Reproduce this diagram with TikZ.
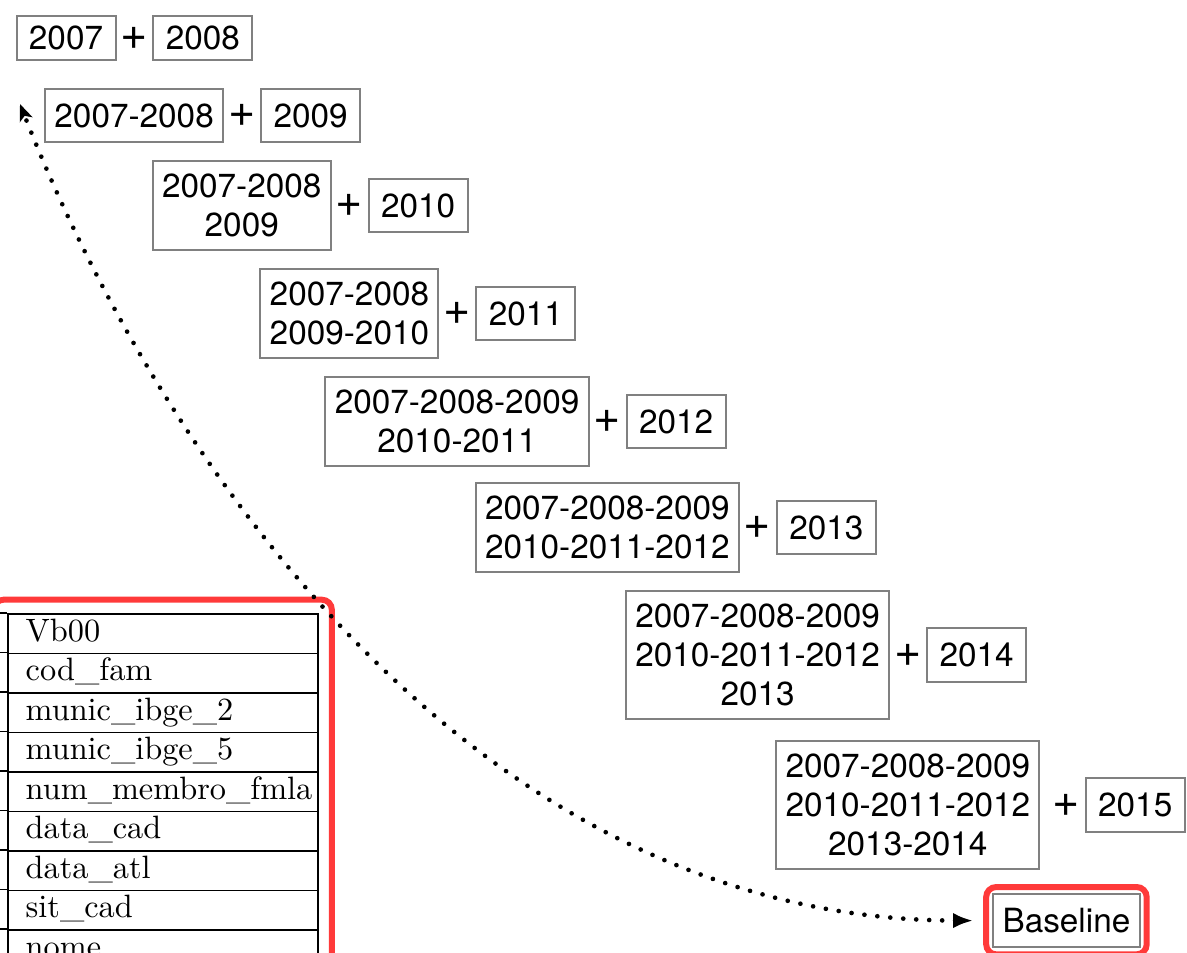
\documentclass[tikz,border=0pt]{standalone}
\usepackage{fontspec}
\newfontfamily\heros{TeX Gyre Heros}
\usetikzlibrary{positioning,arrows.meta,fit}
\definecolor{hired}{HTML}{FF3A3A}

\tikzset{
  yr/.style    = {draw=black!50, line width=0.6pt, inner xsep=2.8pt, inner ysep=4pt,
                  minimum height=16pt, align=center,
                  font=\heros\fontsize{10}{11.6}\selectfont},
  one/.style   = {yr, minimum width=29.7pt},
  low/.style   = {minimum height=13.2pt, inner ysep=2pt},
  plus/.style  = {inner sep=0pt, font=\heros\fontsize{14}{14}\selectfont},
  field/.style = {draw, line width=0.45pt, anchor=north west, inner xsep=5.4pt, inner ysep=0pt,
                  text width=82.2pt, minimum height=11.85pt, text height=6.9pt, text depth=2.2pt,
                  align=left, font=\fontsize{9.7}{11}\selectfont},
  hilite/.style = {draw=hired, line width=1.8pt, rounded corners=3pt},
  link/.style  = {line width=1.4pt, dash pattern=on 0pt off 3.9pt, line cap=round,
                  {Latex[length=6pt,width=4.6pt]}-{Stealth[length=5pt,width=4pt,inset=1.2pt]},
                  shorten <=5.7pt}
}

\begin{document}
\begin{tikzpicture}[x=0.3pt, y=-0.3pt]
  \useasboundingbox (0,0) rectangle (1187,952);
  \clip (0,0) rectangle (1187,952);

% row 1
\node[one, low] (a1) at (66,38) {2007};
\node[plus, right=1pt of a1] (p1) {+};
\node[one, low, right=1.2pt of p1] (b1) {2008};

% row 2
\node[yr, anchor=north] (a2) at (p1 |- 0,88) {2007-2008};
\node[plus, right=1pt of a2] (p2) {+};
\node[one, right=1.2pt of p2] (b2) {2009};

% row 3
\node[yr, anchor=north] (a3) at (p2 |- 0,160) {2007-2008\\2009};
\node[plus, right=1pt of a3] (p3) {+};
\node[one, right=1.2pt of p3] (b3) {2010};

% row 4
\node[yr, anchor=north] (a4) at (p3 |- 0,268) {2007-2008\\2009-2010};
\node[plus, right=1pt of a4] (p4) {+};
\node[one, right=1.2pt of p4] (b4) {2011};

% row 5
\node[yr, anchor=north] (a5) at (p4 |- 0,376) {2007-2008-2009\\2010-2011};
\node[plus, right=1pt of a5] (p5) {+};
\node[one, right=1.2pt of p5] (b5) {2012};

% row 6
\node[yr, anchor=north] (a6) at (p5 |- 0,482) {2007-2008-2009\\2010-2011-2012};
\node[plus, right=1pt of a6] (p6) {+};
\node[one, right=1.2pt of p6] (b6) {2013};

% row 7
\node[yr, anchor=north] (a7) at (p6 |- 0,590) {2007-2008-2009\\2010-2011-2012\\2013};
\node[plus, right=1pt of a7] (p7) {+};
\node[one, right=1.2pt of p7] (b7) {2014};

% row 8
\node[yr, anchor=north] (a8) at (p7 |- 0,740) {2007-2008-2009\\2010-2011-2012\\2013-2014};
\node[plus, right=3.5pt of a8] (p8) {+};
\node[one, right=1.2pt of p8] (b8) {2015};

% result
\node[yr, anchor=north] (base) at (p8 |- 0,893) {Baseline};
\node[hilite, fit=(base), inner sep=1.8pt] (basebox) {};

% variables of the register
\foreach \f [count=\i from 0] in {Vb00,cod\_fam,munic\_ibge\_2,munic\_ibge\_5,num\_membro\_fmla,data\_cad,data\_atl,sit\_cad,nome}{
  \node[field] (f\i) at (7,{613+39.5*\i}) {\f};
  \draw[line width=0.45pt] (f\i.north west) -- ++(-30,0);
}
\node[hilite, fit=(f0)(f8), inner sep=4pt] (tabbox) {};

% feedback
\coordinate (tip) at (20,104);
\draw[link] (base.west) .. controls (480,919) and (163,469) .. (tip);

\end{tikzpicture}
\end{document}
